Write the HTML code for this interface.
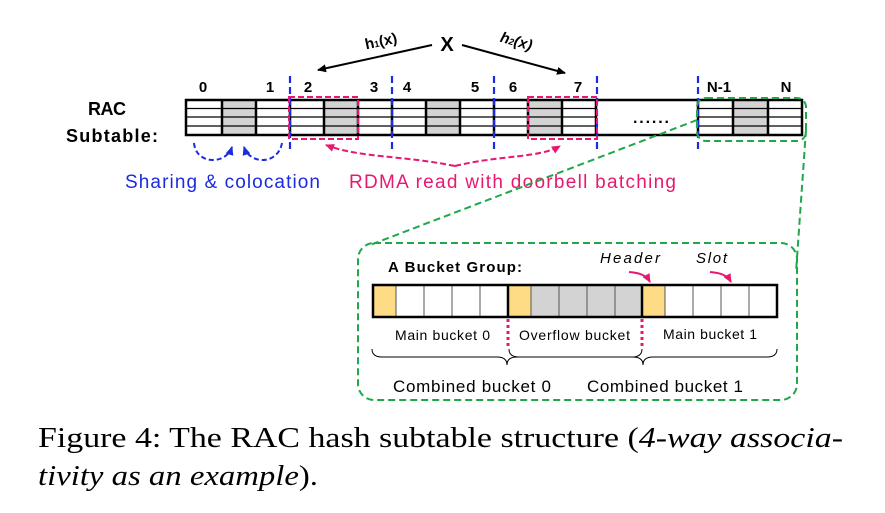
<!DOCTYPE html>
<html><head><meta charset="utf-8"><style>
html,body{margin:0;padding:0;background:#fff;}
svg{display:block;}
.s{font-family:"Liberation Sans",sans-serif;}
</style></head><body>
<svg width="885" height="513" viewBox="0 0 885 513" xmlns="http://www.w3.org/2000/svg">
<defs>
<marker id="ab" markerWidth="10" markerHeight="10" refX="8" refY="5" orient="auto" markerUnits="userSpaceOnUse"><path d="M0,1 L9,5 L0,9 z" fill="#000"/></marker>
<marker id="abl" markerWidth="10" markerHeight="10" refX="8" refY="5" orient="auto" markerUnits="userSpaceOnUse"><path d="M0,1 L9,5 L0,9 z" fill="#1a2be0"/></marker>
<marker id="ap" markerWidth="10" markerHeight="10" refX="8" refY="5" orient="auto" markerUnits="userSpaceOnUse"><path d="M0,1 L9,5 L0,9 z" fill="#e8186f"/></marker>
</defs>
<g fill="#d3d3d3">
<rect x="222" y="100" width="34" height="35"/><rect x="324" y="100" width="34" height="35"/><rect x="426" y="100" width="34" height="35"/><rect x="528" y="100" width="34" height="35"/><rect x="733" y="100" width="35" height="35"/>
</g>
<g stroke="#000" stroke-width="1.3">
<line x1="186" y1="108.5" x2="596" y2="108.5"/><line x1="186" y1="117" x2="596" y2="117"/><line x1="186" y1="126" x2="596" y2="126"/>
<line x1="698" y1="108.5" x2="802" y2="108.5"/><line x1="698" y1="117" x2="802" y2="117"/><line x1="698" y1="126" x2="802" y2="126"/>
</g>
<g stroke="#000" stroke-width="2.5">
<line x1="222" y1="100" x2="222" y2="135"/><line x1="256" y1="100" x2="256" y2="135"/><line x1="290" y1="100" x2="290" y2="135"/><line x1="324" y1="100" x2="324" y2="135"/><line x1="358" y1="100" x2="358" y2="135"/><line x1="392" y1="100" x2="392" y2="135"/><line x1="426" y1="100" x2="426" y2="135"/><line x1="460" y1="100" x2="460" y2="135"/><line x1="494" y1="100" x2="494" y2="135"/><line x1="528" y1="100" x2="528" y2="135"/><line x1="562" y1="100" x2="562" y2="135"/><line x1="596" y1="100" x2="596" y2="135"/><line x1="698" y1="100" x2="698" y2="135"/><line x1="733" y1="100" x2="733" y2="135"/><line x1="768" y1="100" x2="768" y2="135"/>
<rect x="186" y="100" width="616" height="35" fill="none"/>
</g>
<text x="633" y="123" class="s" font-size="16" font-weight="bold" textLength="36">......</text>
<g stroke="#1a2be0" stroke-width="2.2" stroke-dasharray="7,4">
<line x1="290" y1="76" x2="290" y2="152"/><line x1="392" y1="76" x2="392" y2="152"/><line x1="494" y1="76" x2="494" y2="152"/><line x1="597" y1="76" x2="597" y2="152"/><line x1="698" y1="76" x2="698" y2="152"/>
</g>
<g class="s" font-size="15" font-weight="bold" text-anchor="middle">
<text x="203" y="92">0</text><text x="270" y="92">1</text><text x="308" y="92">2</text><text x="374" y="92">3</text><text x="407" y="92">4</text><text x="475" y="92">5</text><text x="513" y="92">6</text><text x="578" y="92">7</text><text x="719" y="92">N-1</text><text x="786" y="92">N</text>
</g>
<text x="88" y="115" class="s" font-size="18" font-weight="bold" textLength="38">RAC</text>
<text x="66" y="142" class="s" font-size="18" font-weight="bold" textLength="92">Subtable:</text>
<g stroke="#e8186f" stroke-width="2" stroke-dasharray="6,3" fill="none">
<rect x="289" y="97" width="69" height="42"/><rect x="528" y="97" width="69" height="42"/>
</g>
<text x="447" y="51" class="s" font-size="20" font-weight="bold" text-anchor="middle">X</text>
<line x1="432" y1="45" x2="318" y2="70" stroke="#000" stroke-width="2" marker-end="url(#ab)"/>
<line x1="462" y1="45" x2="565" y2="73" stroke="#000" stroke-width="2" marker-end="url(#ab)"/>
<text x="382" y="46" class="s" font-size="15" font-weight="bold" text-anchor="middle" transform="rotate(-12 382 46)">h<tspan font-size="9">1</tspan>(x)</text>
<text x="515" y="46" class="s" font-size="15" font-weight="bold" font-style="italic" text-anchor="middle" transform="rotate(16 515 46)">h<tspan font-size="9">2</tspan>(x)</text>
<g stroke="#1a2be0" stroke-width="2" stroke-dasharray="5,3" fill="none">
<path d="M194,143 C196,165 226,165 232,147" marker-end="url(#abl)"/>
<path d="M282,143 C278,165 250,165 244,147" marker-end="url(#abl)"/>
</g>
<g stroke="#e8186f" stroke-width="2" stroke-dasharray="6,3" fill="none">
<path d="M455,166 C400,155 360,158 326,145" marker-end="url(#ap)"/>
<path d="M455,166 C500,155 540,158 560,146" marker-end="url(#ap)"/>
</g>
<text x="125" y="188" class="s" font-size="19" fill="#1a2be0" textLength="195">Sharing &amp; colocation</text>
<text x="349" y="188" class="s" font-size="19" fill="#e8186f" textLength="327">RDMA read with doorbell batching</text>
<g stroke="#1fa84a" stroke-width="2" stroke-dasharray="7,4" fill="none">
<rect x="697" y="98" width="109" height="43" rx="9"/>
<line x1="697" y1="120" x2="370" y2="245"/>
<line x1="806" y1="130" x2="796" y2="272"/>
<rect x="358" y="243" width="439" height="157" rx="16"/>
</g>
<text x="388" y="272" class="s" font-size="15" font-weight="bold" textLength="134">A Bucket Group:</text>
<text x="600" y="263" class="s" font-size="15" font-style="italic" textLength="60">Header</text>
<text x="696" y="263" class="s" font-size="15" font-style="italic" textLength="31">Slot</text>
<g stroke="#e8186f" stroke-width="2" fill="none">
<path d="M629,272 C640,273 646,275 650,282" marker-end="url(#ap)"/>
<path d="M710,272 C721,273 727,275 731,282" marker-end="url(#ap)"/>
</g>
<rect x="373" y="285" width="23" height="32" fill="#fddc85"/>
<rect x="508" y="285" width="23" height="32" fill="#fddc85"/>
<rect x="531" y="285" width="111" height="32" fill="#d3d3d3"/>
<rect x="642" y="285" width="23" height="32" fill="#fddc85"/>
<g stroke="#555" stroke-width="1">
<line x1="396" y1="285" x2="396" y2="317"/><line x1="424" y1="285" x2="424" y2="317"/><line x1="452" y1="285" x2="452" y2="317"/><line x1="480" y1="285" x2="480" y2="317"/>
<line x1="531" y1="285" x2="531" y2="317"/><line x1="559" y1="285" x2="559" y2="317"/><line x1="587" y1="285" x2="587" y2="317"/><line x1="615" y1="285" x2="615" y2="317"/>
<line x1="665" y1="285" x2="665" y2="317"/><line x1="693" y1="285" x2="693" y2="317"/><line x1="721" y1="285" x2="721" y2="317"/><line x1="749" y1="285" x2="749" y2="317"/>
</g>
<g stroke="#000" stroke-width="2.5">
<rect x="373" y="285" width="404" height="32" fill="none"/>
<line x1="508" y1="285" x2="508" y2="317"/><line x1="642" y1="285" x2="642" y2="317"/>
</g>
<g stroke="#e8186f" stroke-width="3" stroke-dasharray="3,3">
<line x1="508" y1="319" x2="508" y2="346"/><line x1="642" y1="319" x2="642" y2="346"/>
</g>
<g class="s" font-size="14">
<text x="395" y="340" textLength="95">Main bucket 0</text><text x="519" y="340" textLength="111">Overflow bucket</text><text x="663" y="339" textLength="94">Main bucket 1</text>
</g>
<g stroke="#000" stroke-width="1" fill="none">
<path d="M372,349 Q372,357 382,357 L497,357 Q507,357 507,365 Q507,357 517,357 L632,357 Q642,357 642,349"/>
<path d="M509,349 Q509,357 519,357 L633,357 Q643,357 643,365 Q643,357 653,357 L767,357 Q777,357 777,349"/>
</g>
<g class="s" font-size="17">
<text x="393" y="392" textLength="158">Combined bucket 0</text><text x="587" y="392" textLength="156">Combined bucket 1</text>
</g>
<g font-family="'Liberation Serif',serif" font-size="28">
<text x="38" y="447" textLength="805" lengthAdjust="spacingAndGlyphs">Figure 4:  The RAC hash subtable structure (<tspan font-style="italic">4-way associa-</tspan></text>
<text x="38" y="485" textLength="280" lengthAdjust="spacingAndGlyphs"><tspan font-style="italic">tivity as an example</tspan>).</text>
</g>
</svg>
</body></html>
